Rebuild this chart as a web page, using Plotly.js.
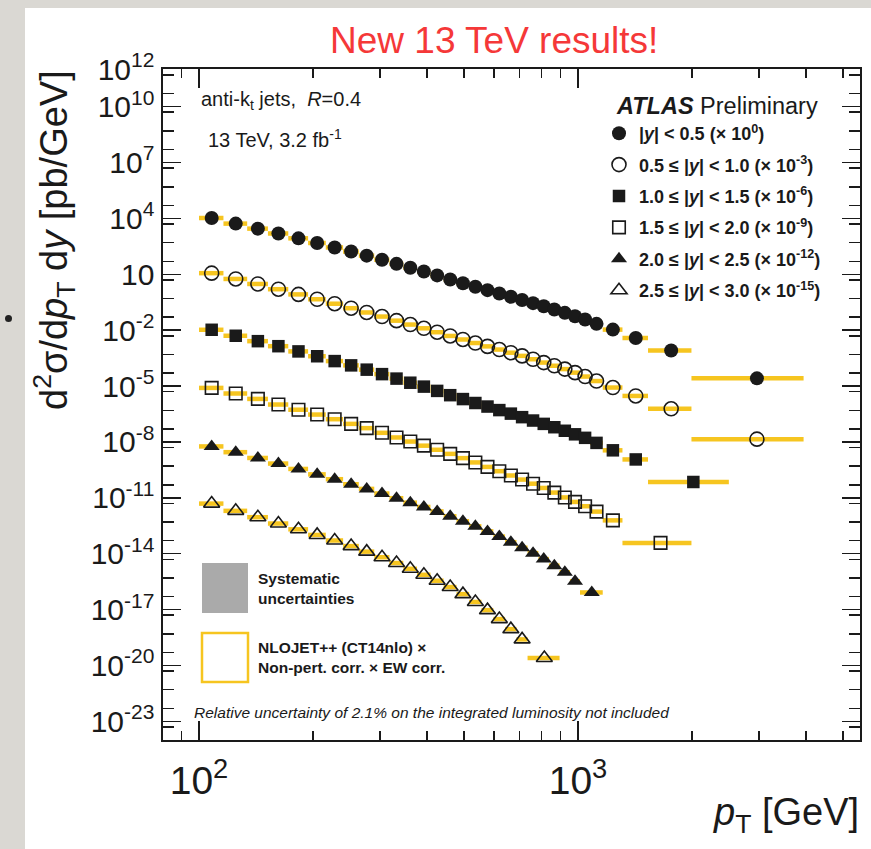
<!DOCTYPE html>
<html>
<head>
<meta charset="utf-8">
<script src="https://cdn.plot.ly/plotly-3.0.1.min.js"></script>
<style>
  html, body { margin: 0; padding: 0; }
  body { width: 871px; height: 849px; background: #dad8d3; position: relative; overflow: hidden; }
  #panel { position: absolute; left: 25px; top: 8px; width: 846px; height: 841px; background: #ffffff; }
  #dot { position: absolute; left: 5px; top: 315px; width: 7px; height: 7px; border-radius: 50%; background: #222; }
</style>
</head>
<body>
<div id="dot"></div>
<div id="panel"></div>
<script>
// ---- Data ----
// bin centres (GeV) of the first 28 pT bins shared by all rapidity slices
const ptCommon = [108,125,143,162,183,205,228,252,277,304,332,361,392,425,460,497,536,577,620,665,712,761,812,866,923,982,1044,1119];

// bin edges per rapidity slice (GeV)
const edgesY0 = [100,116,134,152,172,194,216,240,264,290,318,346,376,408,442,478,516,556,598,642,688,736,786,838,894,952,1012,1076,1162,1310,1530,1992,3937];
const edgesY1 = [100,116,134,152,172,194,216,240,264,290,318,346,376,408,442,478,516,556,598,642,688,736,786,838,894,952,1012,1076,1162,1310,1530,1992,3937];
const edgesY2 = [100,116,134,152,172,194,216,240,264,290,318,346,376,408,442,478,516,556,598,642,688,736,786,838,894,952,1012,1076,1162,1310,1530,2500];
const edgesY3 = [100,116,134,152,172,194,216,240,264,290,318,346,376,408,442,478,516,556,598,642,688,736,786,838,894,952,1012,1076,1162,1310,1992];
const edgesY4 = [100,116,134,152,172,194,216,240,264,290,318,346,376,408,442,478,516,556,598,642,688,736,786,838,894,952,1012,1162];
const edgesY5 = [100,116,134,152,172,194,216,240,264,290,318,346,376,408,442,478,516,556,598,642,688,736,894];

// marker positions (GeV)
const ptY0 = ptCommon.concat([1236,1420,1761,2965]);
const ptY1 = ptCommon.concat([1236,1420,1761,2965]);
const ptY2 = ptCommon.concat([1236,1420,2015]);
const ptY3 = ptCommon.concat([1236,1651]);
const ptY4 = ptCommon.slice(0,26).concat([1087]);
const ptY5 = ptCommon.slice(0,21).concat([815]);

// d2sigma/dpT dy [pb/GeV], as plotted (already multiplied by the legend factor)
const xsY0 = [1.05e4,5.25e3,2.82e3,1.55e3,851,479,275,166,100,60.3,36.3,22.4,14.1,8.71,5.25,3.31,2.14,1.41,0.933,0.617,0.417,0.282,0.191,0.129,0.0851,0.0562,0.0372,0.0219,0.0107,0.0038,8.1e-4,2.6e-5];
const xsY1 = [11.5,5.62,3.02,1.58,0.832,0.457,0.263,0.151,0.0891,0.0537,0.0324,0.0200,0.0126,7.76e-3,4.90e-3,3.16e-3,2.04e-3,1.35e-3,9.12e-4,6.17e-4,4.17e-4,2.75e-4,1.82e-4,1.23e-4,8.13e-5,5.25e-5,3.24e-5,1.86e-5,8.32e-6,2.95e-6,6.03e-7,1.41e-8];
const xsY2 = [1.05e-2,5.01e-3,2.57e-3,1.38e-3,7.24e-4,3.98e-4,2.19e-4,1.29e-4,7.59e-5,4.37e-5,2.51e-5,1.51e-5,9.33e-6,5.50e-6,3.24e-6,2.00e-6,1.23e-6,7.94e-7,5.13e-7,3.31e-7,2.14e-7,1.41e-7,9.33e-8,6.17e-8,3.98e-8,2.57e-8,1.66e-8,8.91e-9,3.55e-9,1.15e-9,7.08e-11];
const xsY3 = [7.94e-6,3.98e-6,2.04e-6,1.02e-6,5.37e-7,2.95e-7,1.66e-7,9.33e-8,5.50e-8,3.09e-8,1.74e-8,1.05e-8,6.31e-9,3.80e-9,2.29e-9,1.35e-9,7.94e-10,4.57e-10,2.69e-10,1.58e-10,9.55e-11,5.75e-11,3.39e-11,1.91e-11,1.05e-11,6.03e-12,3.55e-12,1.82e-12,6.17e-13,3.80e-14];
const xsY4 = [5.75e-9,2.82e-9,1.38e-9,6.92e-10,3.55e-10,1.82e-10,1.00e-10,5.37e-11,3.02e-11,1.70e-11,9.55e-12,5.50e-12,3.24e-12,1.86e-12,1.02e-12,5.50e-13,2.95e-13,1.58e-13,8.32e-14,4.17e-14,2.09e-14,1.07e-14,5.13e-15,2.29e-15,1.00e-15,3.31e-16,8.32e-17];
const xsY5 = [4.90e-12,2.00e-12,9.12e-13,4.17e-13,2.04e-13,1.02e-13,5.13e-14,2.57e-14,1.29e-14,6.46e-15,3.16e-15,1.55e-15,7.41e-16,3.55e-16,1.62e-16,6.76e-17,2.57e-17,9.33e-18,3.09e-18,8.91e-19,2.51e-19,2.51e-20];

const seriesNames = [
  '<b>|<i>y</i>| &lt; 0.5 (× 10<sup>0</sup>)</b>',
  '<b>0.5 ≤ |<i>y</i>| &lt; 1.0 (× 10<sup>-3</sup>)</b>',
  '<b>1.0 ≤ |<i>y</i>| &lt; 1.5 (× 10<sup>-6</sup>)</b>',
  '<b>1.5 ≤ |<i>y</i>| &lt; 2.0 (× 10<sup>-9</sup>)</b>',
  '<b>2.0 ≤ |<i>y</i>| &lt; 2.5 (× 10<sup>-12</sup>)</b>',
  '<b>2.5 ≤ |<i>y</i>| &lt; 3.0 (× 10<sup>-15</sup>)</b>'
];

const xTickVals = [100, 1000];
const xTickText = ['10<sup>2</sup>', '10<sup>3</sup>'];
const xMinorVals = [90,200,300,400,500,600,700,800,900,2000,3000,4000,5000];
const yLabelExps = [12,10,7,4,1,-2,-5,-8,-11,-14,-17,-20,-23];
const yLabelText = ['10<sup>12</sup>','10<sup>10</sup>','10<sup>7</sup>','10<sup>4</sup>','10','10<sup>-2</sup>','10<sup>-5</sup>','10<sup>-8</sup>','10<sup>-11</sup>','10<sup>-14</sup>','10<sup>-17</sup>','10<sup>-20</sup>','10<sup>-23</sup>'];

// ---- Styles ----
const FONT = 'Liberation Sans, Arial, Helvetica, sans-serif';
const YELLOW = '#f6c520';
const INK = '#1a1a1a';
const symbols = ['circle','circle-open','square','square-open','triangle-up','triangle-up-open'];
const sizes = [14,14,12.5,12.5,14,14];

const edgesAll = [edgesY0,edgesY1,edgesY2,edgesY3,edgesY4,edgesY5];
const ptAll = [ptY0,ptY1,ptY2,ptY3,ptY4,ptY5];
const xsAll = [xsY0,xsY1,xsY2,xsY3,xsY4,xsY5];

const traces = [];
// theory bands (horizontal bars spanning each bin)
for (let s = 0; s < 6; s++) {
  const bx = [], by = [];
  const e = edgesAll[s], v = xsAll[s];
  for (let i = 0; i < v.length; i++) {
    bx.push(e[i], e[i+1], null);
    by.push(v[i], v[i], null);
  }
  traces.push({x: bx, y: by, mode: 'lines', type: 'scatter', line: {color: YELLOW, width: 4.5},
    showlegend: false, hoverinfo: 'skip', legendgroup: 'th' + s});
}
// data points
for (let s = 0; s < 6; s++) {
  const open = symbols[s].indexOf('open') >= 0;
  traces.push({x: ptAll[s], y: xsAll[s], mode: 'markers', type: 'scatter', name: seriesNames[s],
    legendgroup: 'g' + s,
    marker: {symbol: symbols[s], size: sizes[s], color: INK,
      line: {color: INK, width: open ? 1.6 : 0}}});
}

// y ticks: labelled decades on yaxis, the other decades on an overlaid tick-only axis
const yTickVals = yLabelExps.map(n => Math.pow(10, n));
const yOtherDecades = [], yMinorVals = [];
for (let n = -24; n <= 12; n++) {
  if (yLabelExps.indexOf(n) < 0) yOtherDecades.push(Math.pow(10, n));
  yMinorVals.push(5 * Math.pow(10, n - 1));
}

// plot frame in page px: x 163..860, y 69..740
const PX0 = 163, PX1 = 860, PY0 = 69, PY1 = 740;
const px = v => (v - PX0) / (PX1 - PX0);
const py = v => (PY1 - v) / (PY1 - PY0);
const Y_RANGE = [-24.0, 12.02];

const layout = {
  width: 846, height: 841,
  margin: {l: 138, r: 11, t: 61, b: 109, pad: 0},
  paper_bgcolor: '#ffffff', plot_bgcolor: '#ffffff',
  font: {family: FONT, color: INK},
  showlegend: true,
  legend: {x: px(599), y: py(115), xanchor: 'left', yanchor: 'top', bgcolor: 'rgba(0,0,0,0)',
    font: {family: FONT, size: 18, color: INK}, traceorder: 'grouped', tracegroupgap: 5,
    itemclick: false, itemdoubleclick: false},
  xaxis: {type: 'log', range: [1.905, 3.744], showgrid: false, zeroline: false,
    showline: true, linecolor: INK, linewidth: 1.6, mirror: 'ticks',
    ticks: 'inside', ticklen: 19, tickwidth: 1.5, tickcolor: INK,
    tickvals: xTickVals, ticktext: xTickText, ticklabelstandoff: 6,
    tickfont: {family: FONT, size: 39, color: INK},
    minor: {tickvals: xMinorVals, ticks: 'inside', ticklen: 9, tickwidth: 1.5, tickcolor: INK, showgrid: false}},
  yaxis: {type: 'log', range: Y_RANGE, showgrid: false, zeroline: false,
    showline: true, linecolor: INK, linewidth: 1.6, mirror: 'ticks',
    ticks: 'inside', ticklen: 18, tickwidth: 1.5, tickcolor: INK,
    tickvals: yTickVals, ticktext: yLabelText, ticklabelstandoff: 1,
    tickfont: {family: FONT, size: 30, color: INK},
    minor: {tickvals: yMinorVals, ticks: 'inside', ticklen: 11, tickwidth: 1.5, tickcolor: INK, showgrid: false}},
  yaxis2: {type: 'log', range: Y_RANGE, overlaying: 'y', anchor: 'x', side: 'left', showgrid: false, zeroline: false,
    showline: false, mirror: 'ticks', ticks: 'inside', ticklen: 18, tickwidth: 1.5, tickcolor: INK,
    tickvals: yOtherDecades, showticklabels: false},
  shapes: [
    {type: 'rect', xref: 'paper', yref: 'paper', x0: px(202), x1: px(248), y0: py(613), y1: py(563),
      fillcolor: '#aaaaaa', line: {width: 0}},
    {type: 'rect', xref: 'paper', yref: 'paper', x0: px(202), x1: px(248), y0: py(682), y1: py(633),
      fillcolor: 'rgba(0,0,0,0)', line: {color: YELLOW, width: 2.5}}
  ],
  annotations: [
    {text: 'New 13 TeV results!', xref: 'paper', yref: 'paper', x: px(494), y: py(40),
      xanchor: 'center', yanchor: 'middle', showarrow: false, font: {family: FONT, size: 37, color: '#f53838'}},
    {text: 'anti-k<sub>t</sub> jets,  <i>R</i>=0.4', xref: 'paper', yref: 'paper', x: px(199), y: py(101),
      xanchor: 'left', yanchor: 'middle', showarrow: false, font: {family: FONT, size: 20, color: INK}},
    {text: '13 TeV, 3.2 fb<sup>-1</sup>', xref: 'paper', yref: 'paper', x: px(206), y: py(138),
      xanchor: 'left', yanchor: 'middle', showarrow: false, font: {family: FONT, size: 20, color: INK}},
    {text: '<b><i>ATLAS</i></b> Preliminary', xref: 'paper', yref: 'paper', x: px(614), y: py(106),
      xanchor: 'left', yanchor: 'middle', showarrow: false, font: {family: FONT, size: 23.5, color: INK}},
    {text: '<b>Systematic<br>uncertainties</b>', xref: 'paper', yref: 'paper', x: px(256), y: py(588),
      xanchor: 'left', yanchor: 'middle', align: 'left', showarrow: false, font: {family: FONT, size: 15.5, color: INK}},
    {text: '<b>NLOJET++ (CT14nlo) ×<br>Non-pert. corr. × EW corr.</b>', xref: 'paper', yref: 'paper', x: px(256), y: py(657),
      xanchor: 'left', yanchor: 'middle', align: 'left', showarrow: false, font: {family: FONT, size: 15.5, color: INK}},
    {text: '<i>Relative uncertainty of 2.1% on the integrated luminosity not included</i>', xref: 'paper', yref: 'paper',
      x: px(192), y: py(712), xanchor: 'left', yanchor: 'middle', showarrow: false, font: {family: FONT, size: 15.5, color: INK}},
    {text: 'd<sup>2</sup>σ/d<i>p</i><sub>T</sub> d<i>y</i> [pb/GeV]', xref: 'paper', yref: 'paper', x: px(54), y: py(240),
      xanchor: 'center', yanchor: 'middle', textangle: -90, showarrow: false, font: {family: FONT, size: 38, color: INK}},
    {text: '<i>p</i><sub>T</sub> [GeV]', xref: 'paper', yref: 'paper', x: px(861), y: py(815),
      xanchor: 'right', yanchor: 'middle', showarrow: false, font: {family: FONT, size: 38, color: INK}}
  ]
};

Plotly.newPlot('panel', traces, layout, {staticPlot: true, displayModeBar: false});
</script>
</body>
</html>
